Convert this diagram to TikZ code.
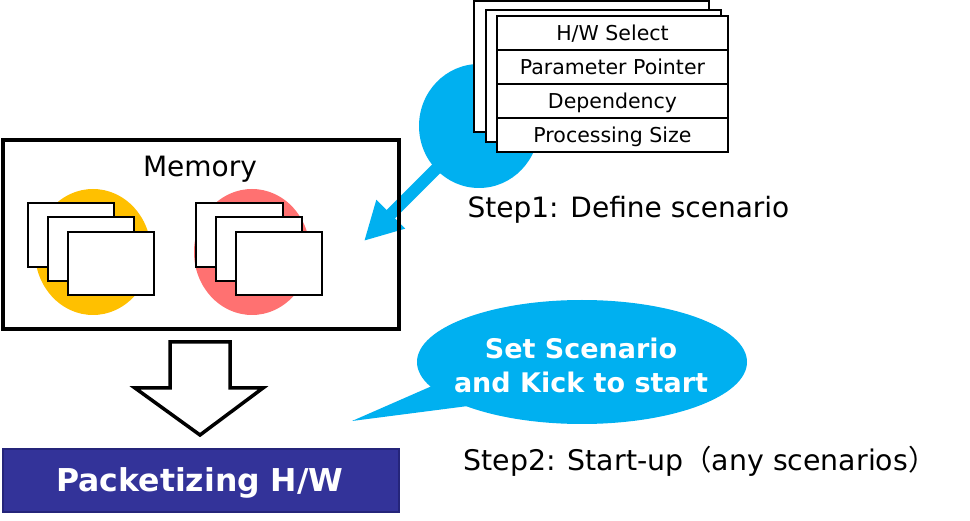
\documentclass[tikz,border=0pt]{standalone}
\usepackage{fontspec}
\setmainfont{DejaVu Sans}
\newfontfamily\cjkfont{Noto Sans CJK JP}
\usetikzlibrary{arrows.meta}
\definecolor{skyb}{HTML}{00B0F0}
\definecolor{gold}{HTML}{FFC000}
\definecolor{salmon}{HTML}{FF7171}
\definecolor{hwfill}{HTML}{333399}
\definecolor{hwdraw}{HTML}{25257A}
\tikzset{
  rowbox/.style={draw, line width=1.8pt, fill=white, minimum width=231pt, minimum height=34pt, inner sep=0pt, text height=16pt, text depth=0pt, font=\fontsize{20.5}{22}\selectfont},
  sheet/.style={draw, line width=2pt, fill=white},
  bigtext/.style={font=\fontsize{28}{34}\selectfont, inner sep=0pt},
}
\begin{document}
\begin{tikzpicture}[x=1pt,y=-1pt]
\useasboundingbox[fill=white] (0,0) rectangle (970,521);

% blue circle and arrow
\coordinate (bc) at (479,126);
\coordinate (tip) at (364,241);
\fill[skyb] (bc) ellipse [x radius=60pt, y radius=62pt];
\draw[skyb, line width=12pt, -{Triangle[length=38pt,width=38pt]}] (bc) -- (tip);

% memory box
\node[draw, line width=3.5pt, minimum width=396pt, minimum height=189pt, inner sep=0pt] (mem) at (201,234.5) {};
\node[bigtext] (memlbl) at (200,169) {Memory};

% left group
\fill[gold] (93,252) ellipse [x radius=58pt, y radius=63pt];
\node[sheet, minimum width=86pt, minimum height=64pt] (a1) at (71,235) {};
\node[sheet, minimum width=86pt, minimum height=64pt] (a2) at (91,249) {};
\node[sheet, minimum width=86pt, minimum height=63pt] (a3) at (111,263.5) {};

% right group
\fill[salmon] (252,252) ellipse [x radius=58pt, y radius=63pt];
\node[sheet, minimum width=87pt, minimum height=64pt] (b1) at (239.5,235) {};
\node[sheet, minimum width=86pt, minimum height=64pt] (b2) at (259,249) {};
\node[sheet, minimum width=86pt, minimum height=63pt] (b3) at (279,263.5) {};

% scenario table stack
\node[draw, line width=1.8pt, fill=white, minimum width=235pt, minimum height=131pt, inner sep=0pt] (t1) at (591.5,66.5) {};
\node[draw, line width=1.8pt, fill=white, minimum width=235pt, minimum height=132pt, inner sep=0pt] (t2) at (603.5,76) {};
\node[rowbox] (r1) at (612.5,33) {H/W Select};
\node[rowbox] (r2) at (612.5,67) {Parameter Pointer};
\node[rowbox] (r3) at (612.5,101) {Dependency};
\node[rowbox] (r4) at (612.5,135) {Processing Size};

\node[bigtext] (step1) at (628.5,210) {Step1: Define scenario};

% hollow down arrow
\draw[line width=3.5pt, fill=white, line join=miter] (170,342) -- (230,342) -- (230,388) -- (263,388) -- (200,435) -- (135,388) -- (170,388) -- cycle;

% speech bubble
\fill[skyb] (582,362) ellipse [x radius=165pt, y radius=62pt];
\fill[skyb] (432,386) -- (352,421) -- (468,406) -- cycle;
\node[text=white, align=center, font=\bfseries\fontsize{27}{34}\selectfont, inner sep=0pt] (bubble) at (581,365) {Set Scenario\\and Kick to start};

\node[font=\fontsize{28.4}{34}\selectfont, inner sep=0pt] (step2) at (700,461) {Step2: Start-up{\cjkfont （}any scenarios{\cjkfont ）}};

% packetizing H/W
\node[draw=hwdraw, fill=hwfill, line width=2.5pt, minimum width=396pt, minimum height=63pt, inner sep=0pt] (hw) at (201,480.5) {};
\node[text=white, inner sep=0pt, font=\bfseries\fontsize{31.5}{34}\selectfont] (hwlbl) at (200,483) {Packetizing H/W};
\end{tikzpicture}
\end{document}
